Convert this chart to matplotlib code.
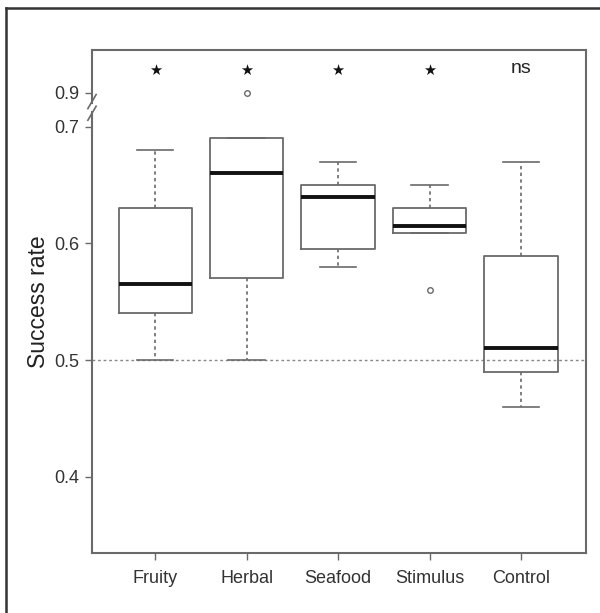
import matplotlib
matplotlib.use("Agg")
import matplotlib.pyplot as plt
from matplotlib.lines import Line2D

plt.rcParams['font.family'] = ['Liberation Sans', 'DejaVu Sans']

categories = ["Fruity", "Herbal", "Seafood", "Stimulus", "Control"]
whisker_low = [0.50, 0.50, 0.58, 0.609, 0.46]
q1 = [0.54, 0.57, 0.595, 0.609, 0.49]
median = [0.565, 0.66, 0.64, 0.615, 0.51]
q3 = [0.63, 0.69, 0.65, 0.63, 0.589]
whisker_high = [0.68, 0.69, 0.67, 0.65, 0.67]
outliers = [[], [0.9], [], [0.56], []]
signif = ["\u2605", "\u2605", "\u2605", "\u2605", "ns"]

ytick_vals = [0.4, 0.5, 0.6, 0.7, 0.9]
BREAK_AT = 0.7
POS_09 = 0.729


def ymap(v):
    return v if v <= BREAK_AT else POS_09 + (v - 0.9)


stats = []
for i, c in enumerate(categories):
    stats.append(dict(label=c, whislo=whisker_low[i], q1=q1[i], med=median[i],
                      q3=q3[i], whishi=whisker_high[i],
                      fliers=[ymap(v) for v in outliers[i]]))

fig = plt.figure(figsize=(6.0, 6.13), dpi=100)
ax = fig.add_axes([92/600, 60/613, (586-92)/600, (553-50)/613])

gray = "#6a6a6a"
ax.axhline(0.5, color="#888888", linestyle=(0, (2, 2)), linewidth=1.0, zorder=0)

ax.bxp(stats, positions=range(1, 6), widths=0.8, showfliers=True,
       boxprops=dict(color=gray, linewidth=1.3),
       whiskerprops=dict(color=gray, linewidth=1.2, linestyle=(0, (2, 2))),
       capprops=dict(color=gray, linewidth=1.2),
       medianprops=dict(color="#111111", linewidth=2.8),
       flierprops=dict(marker="o", markersize=4, markerfacecolor="white",
                       markeredgecolor=gray, markeredgewidth=1.0))

for i, s in enumerate(signif):
    if s == "ns":
        ax.text(i + 1, 0.7495, s, ha="center", va="center", fontsize=14, color="#222222")
    else:
        ax.text(i + 1, 0.7486, s, ha="center", va="center", fontsize=10.5, color="#111111",
                family=["DejaVu Sans"])

ax.set_xlim(0.31, 5.71)
ax.set_ylim(0.3346, 0.7657)
ax.set_xticks(range(1, 6))
ax.set_xticklabels(categories, fontsize=13, color="#333333")
ax.set_yticks([ymap(v) for v in ytick_vals])
ax.set_yticklabels([f"{v:.1f}" for v in ytick_vals], fontsize=13, color="#333333")
ax.tick_params(axis="both", colors=gray, labelcolor="#333333", length=5, width=1.0)
ax.tick_params(axis="x", pad=7)
ax.tick_params(axis="y", pad=4)
ax.set_ylabel("Success rate", fontsize=16.5, color="#222222", labelpad=3)

for sp in ax.spines.values():
    sp.set_color(gray)
    sp.set_linewidth(1.5)
ax.spines["left"].set_visible(False)
# left spine with a break
ax.plot([0, 0], [0, (0.7125 - 0.3346) / (0.7657 - 0.3346)], transform=ax.transAxes,
        color=gray, linewidth=1.5, clip_on=False)
ax.plot([0, 0], [(0.7205 - 0.3346) / (0.7657 - 0.3346), 1], transform=ax.transAxes,
        color=gray, linewidth=1.5, clip_on=False)
for yb in (0.7115, 0.7215):
    ax.plot([ax.get_xlim()[0] - 0.045, ax.get_xlim()[0] + 0.045],
            [yb - 0.006, yb + 0.006], color=gray, linewidth=1.2, clip_on=False)

# outer frame (left and top)
fig.add_artist(Line2D([6/600, 6/600], [0, 1 - 8/613], transform=fig.transFigure,
                      color="#333333", linewidth=1.8))
fig.add_artist(Line2D([6/600, 1], [1 - 8/613, 1 - 8/613], transform=fig.transFigure,
                      color="#333333", linewidth=1.8))

fig.savefig("out.png", dpi=100, facecolor="white")
